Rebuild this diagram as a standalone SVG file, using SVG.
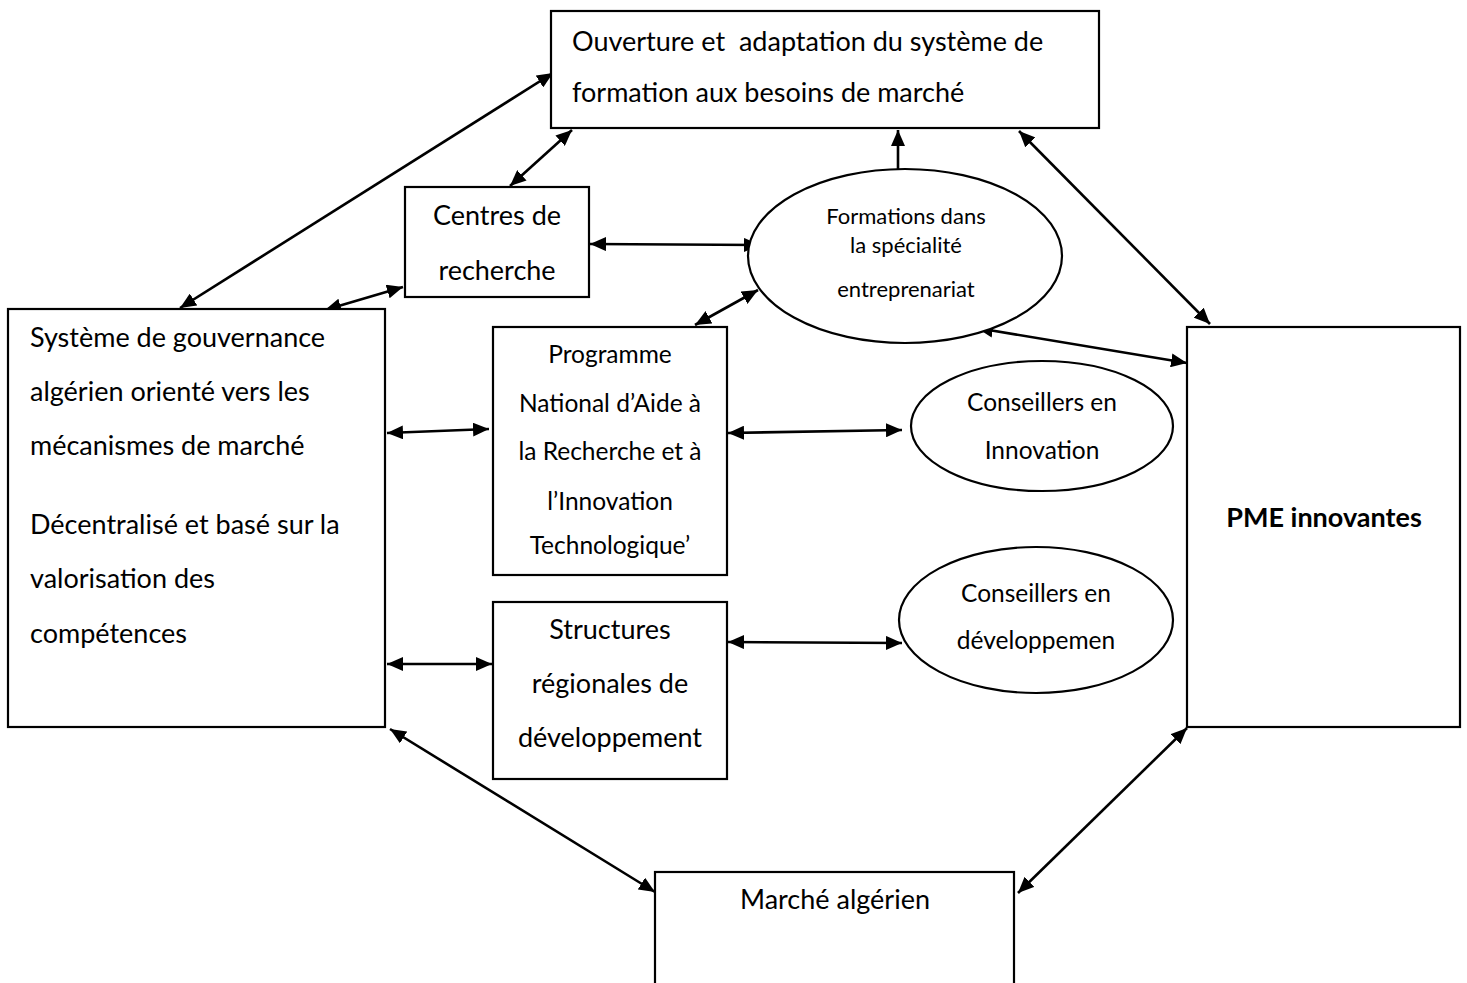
<svg xmlns="http://www.w3.org/2000/svg" width="1467" height="983" viewBox="0 0 1467 983">
<defs>
<style>
.box{fill:#fff;stroke:#000;stroke-width:2.2}
.ell{fill:#fff;stroke:#000;stroke-width:2.2}
.t{font-family:Lato,"Liberation Sans",sans-serif;font-size:27px;fill:#000}
.tm{font-family:Lato,"Liberation Sans",sans-serif;font-size:24.5px;fill:#000}
.ts{font-family:Lato,"Liberation Sans",sans-serif;font-size:22px;fill:#000}
.c{text-anchor:middle}
.b{font-weight:bold}
.ln{fill:none;stroke:#000;stroke-width:2.6}
</style>
<marker id="ah" viewBox="0 0 16 14" refX="16" refY="7" markerWidth="16" markerHeight="14" markerUnits="userSpaceOnUse" orient="auto-start-reverse">
<path d="M0,0 L16,7 L0,14 Z" fill="#000"/>
</marker>
</defs>
<rect width="1467" height="983" fill="#fff"/>

<g id="connectors">
<line class="ln" x1="180" y1="308" x2="553" y2="73" marker-start="url(#ah)" marker-end="url(#ah)"/>
<line class="ln" x1="510" y1="186" x2="572" y2="130" marker-start="url(#ah)" marker-end="url(#ah)"/>
<line class="ln" x1="325" y1="310" x2="403" y2="287" marker-start="url(#ah)" marker-end="url(#ah)"/>
<line class="ln" x1="590" y1="244" x2="760" y2="245" marker-start="url(#ah)" marker-end="url(#ah)"/>
<line class="ln" x1="898" y1="169" x2="898" y2="130" marker-end="url(#ah)"/>
<line class="ln" x1="695" y1="325" x2="758" y2="290" marker-start="url(#ah)" marker-end="url(#ah)"/>
<line class="ln" x1="1019" y1="131" x2="1210" y2="324" marker-start="url(#ah)" marker-end="url(#ah)"/>
<line class="ln" x1="977" y1="328" x2="1187" y2="363" marker-start="url(#ah)" marker-end="url(#ah)"/>
<line class="ln" x1="387" y1="433" x2="489" y2="429" marker-start="url(#ah)" marker-end="url(#ah)"/>
<line class="ln" x1="728" y1="433" x2="902" y2="430" marker-start="url(#ah)" marker-end="url(#ah)"/>
<line class="ln" x1="387" y1="664" x2="492" y2="664" marker-start="url(#ah)" marker-end="url(#ah)"/>
<line class="ln" x1="728" y1="642" x2="902" y2="643" marker-start="url(#ah)" marker-end="url(#ah)"/>
<line class="ln" x1="390" y1="729" x2="655" y2="892" marker-start="url(#ah)" marker-end="url(#ah)"/>
<line class="ln" x1="1187" y1="728" x2="1018" y2="893" marker-start="url(#ah)" marker-end="url(#ah)"/>
</g>

<g id="ouverture">
<rect class="box" x="551" y="11" width="548" height="117"/>
<text class="t" x="572" y="51" xml:space="preserve" style="white-space:pre">Ouverture et  adaptation du système de</text>
<text class="t" x="572" y="102">formation aux besoins de marché</text>
</g>

<g id="centres">
<rect class="box" x="405" y="187" width="184" height="110"/>
<text class="t c" x="497" y="225">Centres de</text>
<text class="t c" x="497" y="280">recherche</text>
</g>

<g id="formations">
<ellipse class="ell" cx="905" cy="256" rx="157" ry="87"/>
<text class="ts c" x="906" y="224">Formations dans</text>
<text class="ts c" x="906" y="253">la spécialité</text>
<text class="ts c" x="906" y="297">entreprenariat</text>
</g>

<g id="gouvernance">
<rect class="box" x="8" y="309" width="377" height="418"/>
<text class="t" x="30" y="347">Système de gouvernance</text>
<text class="t" x="30" y="401">algérien orienté vers les</text>
<text class="t" x="30" y="455">mécanismes de marché</text>
<text class="t" x="30" y="534">Décentralisé et basé sur la</text>
<text class="t" x="30" y="588">valorisation des</text>
<text class="t" x="30" y="643">compétences</text>
</g>

<g id="programme">
<rect class="box" x="493" y="327" width="234" height="248"/>
<text class="tm c" x="610" y="363">Programme</text>
<text class="tm c" x="610" y="412">National d’Aide à</text>
<text class="tm c" x="610" y="460">la Recherche et à</text>
<text class="tm c" x="610" y="510">l’Innovation</text>
<text class="tm c" x="610" y="554">Technologique’</text>
</g>

<g id="conseillers-innovation">
<ellipse class="ell" cx="1042" cy="426" rx="131" ry="65"/>
<text class="tm c" x="1042" y="411">Conseillers en</text>
<text class="tm c" x="1042" y="459">Innovation</text>
</g>

<g id="structures">
<rect class="box" x="493" y="602" width="234" height="177"/>
<text class="t c" x="610" y="639">Structures</text>
<text class="t c" x="610" y="693">régionales de</text>
<text class="t c" x="610" y="747">développement</text>
</g>

<g id="conseillers-developpement">
<ellipse class="ell" cx="1036" cy="620" rx="137" ry="73"/>
<text class="tm c" x="1036" y="602">Conseillers en</text>
<text class="tm c" x="1036" y="649">développemen</text>
</g>

<g id="pme">
<rect class="box" x="1187" y="327" width="273" height="400"/>
<text class="t c b" x="1324" y="527">PME innovantes</text>
</g>

<g id="marche">
<rect class="box" x="655" y="872" width="359" height="130"/>
<text class="t c" x="835" y="909">Marché algérien</text>
</g>
</svg>
